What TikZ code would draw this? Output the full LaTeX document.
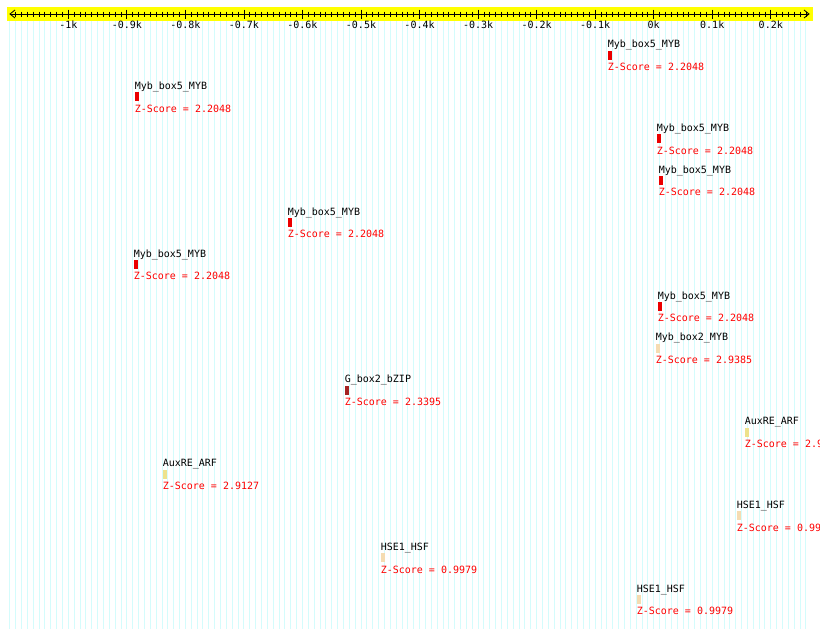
\documentclass[tikz,border=0pt]{standalone}
\usepackage{fontspec}
\setmonofont{DejaVu Sans Mono}
\definecolor{axisyellow}{RGB}{255,255,0}
\definecolor{gridcyan}{RGB}{212,252,252}
\definecolor{zred}{RGB}{255,0,0}
\definecolor{mybcol}{RGB}{235,0,0}
\definecolor{gcol}{RGB}{165,35,35}
\definecolor{auxcol}{RGB}{238,226,140}
\definecolor{hsecol}{RGB}{245,220,178}
\begin{document}
\begin{tikzpicture}[x=1pt,y=-1pt,
  mono/.style={font=\ttfamily\fontsize{10}{12}\selectfont, inner sep=0pt},
  motif/.style={mono, anchor=base west, text=black},
  score/.style={mono, anchor=base west, text=zred},
  ticklab/.style={mono, anchor=base, text=black},
  hit/.style={draw=none, fill=#1, minimum width=4pt, minimum height=9pt, inner sep=0pt, anchor=north west},
  axisline/.style={black, line width=0.8pt},
]
\useasboundingbox (0,0) rectangle (820,629);
\clip (0,0) rectangle (820,629);
\fill[white] (0,0) rectangle (820,629);
% grid lines
\foreach \k in {-110,...,26}
  \draw[gridcyan, line width=0.9pt] ({653.7+5.854*\k},21) -- ({653.7+5.854*\k},629);
% yellow band
\fill[axisyellow] (7,7) rectangle (813,21);
% axis
\coordinate (axL) at (10,14);
\coordinate (axR) at (809,14);
\coordinate (axLa) at (15,10);
\coordinate (axLb) at (15,18);
\coordinate (axRa) at (804,10);
\coordinate (axRb) at (804,18);
\draw[axisline] (axL) -- (axR);
\draw[axisline] (axLa) -- (axL) -- (axLb);
\draw[axisline] (axRa) -- (axR) -- (axRb);
\foreach \k in {-109,...,26}
  \draw[axisline] ({653.7+5.854*\k},11.5) -- ++(0,5);
\foreach \k/\t [count=\n] in {-100/-1k,-90/-0.9k,-80/-0.8k,-70/-0.7k,-60/-0.6k,-50/-0.5k,-40/-0.4k,-30/-0.3k,-20/-0.2k,-10/-0.1k,0/0k,10/0.1k,20/0.2k}{
  \draw[axisline] ({653.7+5.854*\k},9.5) -- ++(0,9);
  \node[ticklab] (t\n) at ({653.7+5.854*\k},28) {\t};
}
% features
\foreach \x/\name/\col/\z [count=\i from 0] in {
  608/Myb\_box5\_MYB/mybcol/2.2048,
  135/Myb\_box5\_MYB/mybcol/2.2048,
  657/Myb\_box5\_MYB/mybcol/2.2048,
  659/Myb\_box5\_MYB/mybcol/2.2048,
  288/Myb\_box5\_MYB/mybcol/2.2048,
  134/Myb\_box5\_MYB/mybcol/2.2048,
  658/Myb\_box5\_MYB/mybcol/2.2048,
  656/Myb\_box2\_MYB/hsecol/2.9385,
  345/G\_box2\_bZIP/gcol/2.3395,
  745/AuxRE\_ARF/auxcol/2.9127,
  163/AuxRE\_ARF/auxcol/2.9127,
  737/HSE1\_HSF/hsecol/0.9979,
  381/HSE1\_HSF/hsecol/0.9979,
  637/HSE1\_HSF/hsecol/0.9979}{
  \node[motif] (m\i) at ({\x-0.4},{47.6+41.9*\i}) {\name};
  \node[hit=\col] (b\i) at (\x,{50.3+41.9*\i}) {};
  \node[score] (s\i) at ({\x-0.4},{70.2+41.9*\i}) {Z-Score = \z};
}
\end{tikzpicture}
\end{document}
